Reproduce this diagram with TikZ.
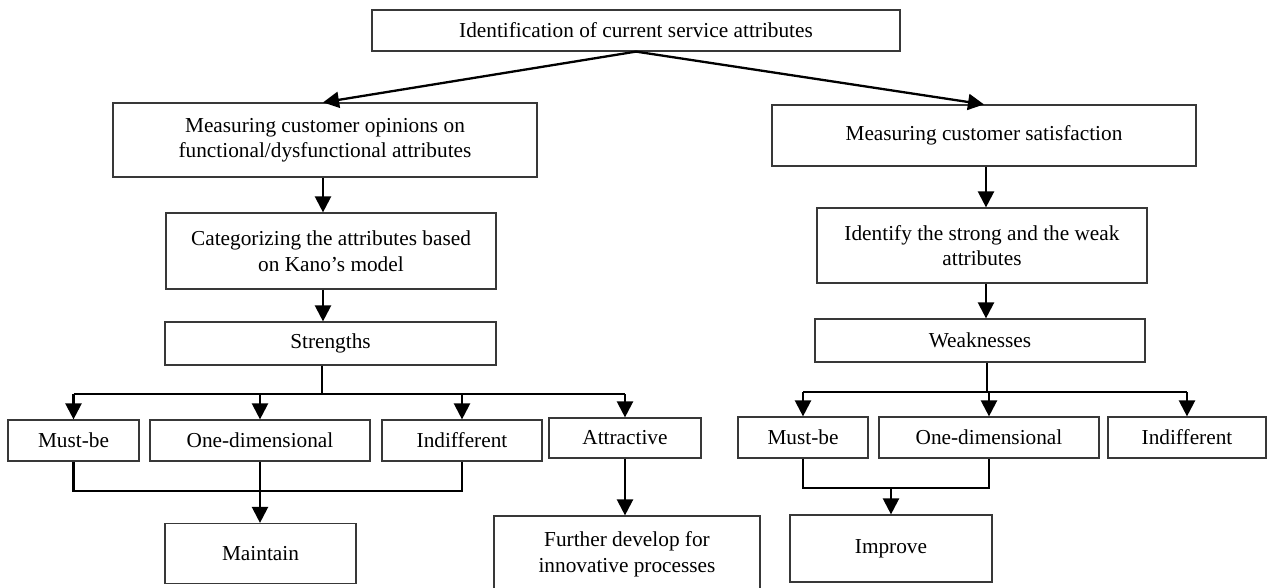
\documentclass[tikz,border=0pt]{standalone}
\usepackage{fontspec}
\setmainfont{Liberation Serif}
\usetikzlibrary{arrows.meta,calc}
\begin{document}
\begin{tikzpicture}[x=1pt,y=-1pt,
  box/.style={draw=black!78,line width=1.2pt,inner sep=0pt,align=center,
    font=\fontsize{21.3}{25.5}\selectfont},
  conn/.style={line width=2.3pt,black},
  arr/.style={conn,-{Triangle[width=16pt,length=16pt]}}]
\fill[white] (0,0) rectangle (1267,587);
\useasboundingbox (0,0) rectangle (1267,587);
% top
\node[box,minimum width=528pt,minimum height=41pt] (top) at (636,30.5) {Identification of current service attributes};
% left column
\node[box,minimum width=424pt,minimum height=74pt] (L1) at (325,140) {Measuring customer opinions on\\functional/dysfunctional attributes};
\node[box,minimum width=330pt,minimum height=76pt] (cat) at (331,251) {Categorizing the attributes based\\on Kano’s model};
\node[box,minimum width=331pt,minimum height=43pt] (str) at (330.5,343.5) {Strengths};
\node[box,minimum width=131pt,minimum height=41pt] (mbL) at (73.5,440.5) {Must-be};
\node[box,minimum width=220pt,minimum height=41pt] (odL) at (260,440.5) {One-dimensional};
\node[box,minimum width=160pt,minimum height=41pt] (inL) at (462,440.5) {Indifferent};
\node[box,minimum width=152pt,minimum height=40pt] (atL) at (625,438) {Attractive};
\node[box,minimum width=191pt,minimum height=60pt] (maint) at (260.5,553.5) {Maintain};
\node[box,minimum width=266pt,minimum height=77pt] (fur) at (627,554.5) {Further develop for\\innovative processes};
% right column
\node[box,minimum width=424pt,minimum height=61pt] (R1) at (984,135.5) {Measuring customer satisfaction};
\node[box,minimum width=330pt,minimum height=75pt] (R2) at (982,245.5) {Identify the strong and the weak\\attributes};
\node[box,minimum width=330pt,minimum height=43pt] (weak) at (980,340.5) {Weaknesses};
\node[box,minimum width=130pt,minimum height=41pt] (mbR) at (803,437.5) {Must-be};
\node[box,minimum width=220pt,minimum height=41pt] (odR) at (989,437.5) {One-dimensional};
\node[box,minimum width=158pt,minimum height=41pt] (inR) at (1187,437.5) {Indifferent};
\node[box,minimum width=202pt,minimum height=67pt] (impr) at (891,548.5) {Improve};
% junction coordinates
\coordinate (sj) at (322,394);
\coordinate (mj) at (260,491);
\coordinate (wj) at (987,392);
\coordinate (rj) at (891,488);
% connectors top
\draw[arr] (top.south) -- ([xshift=-2pt]L1.north);
\draw[arr] (top.south) -- (R1.north);
% left chain
\draw[arr] ([xshift=-2pt]L1.south) -- ([xshift=-2pt]L1.south |- cat.north);
\draw[arr] ([xshift=-2pt]L1.south |- cat.south) -- ([xshift=-2pt]L1.south |- str.north);
\draw[conn] (str.south -| sj) -- (sj);
\draw[conn] (mbL.north |- sj) -- (atL.north |- sj);
\draw[arr] (mbL.north |- sj) -- (mbL.north);
\draw[arr] (odL.north |- sj) -- (odL.north);
\draw[arr] (inL.north |- sj) -- (inL.north);
\draw[arr] (atL.north |- sj) -- (atL.north);
\draw[conn] (mbL.south) -- (mbL.south |- mj) -- (inL.south |- mj) -- (inL.south);
\draw[arr] (odL.south) -- (odL.south |- maint.north);
\draw[arr] (atL.south) -- (atL.south |- fur.north);
% right chain
\draw[arr] ([xshift=2pt]R1.south) -- ([xshift=2pt]R1.south |- R2.north);
\draw[arr] ([xshift=2pt]R1.south |- R2.south) -- ([xshift=2pt]R1.south |- weak.north);
\draw[conn] (weak.south -| wj) -- (wj);
\draw[conn] (mbR.north |- wj) -- (inR.north |- wj);
\draw[arr] (mbR.north |- wj) -- (mbR.north);
\draw[arr] (odR.north |- wj) -- (odR.north);
\draw[arr] (inR.north |- wj) -- (inR.north);
\draw[conn] (mbR.south) -- (mbR.south |- rj) -- (odR.south |- rj) -- (odR.south);
\draw[arr] (rj) -- (rj |- impr.north);
\end{tikzpicture}
\end{document}
